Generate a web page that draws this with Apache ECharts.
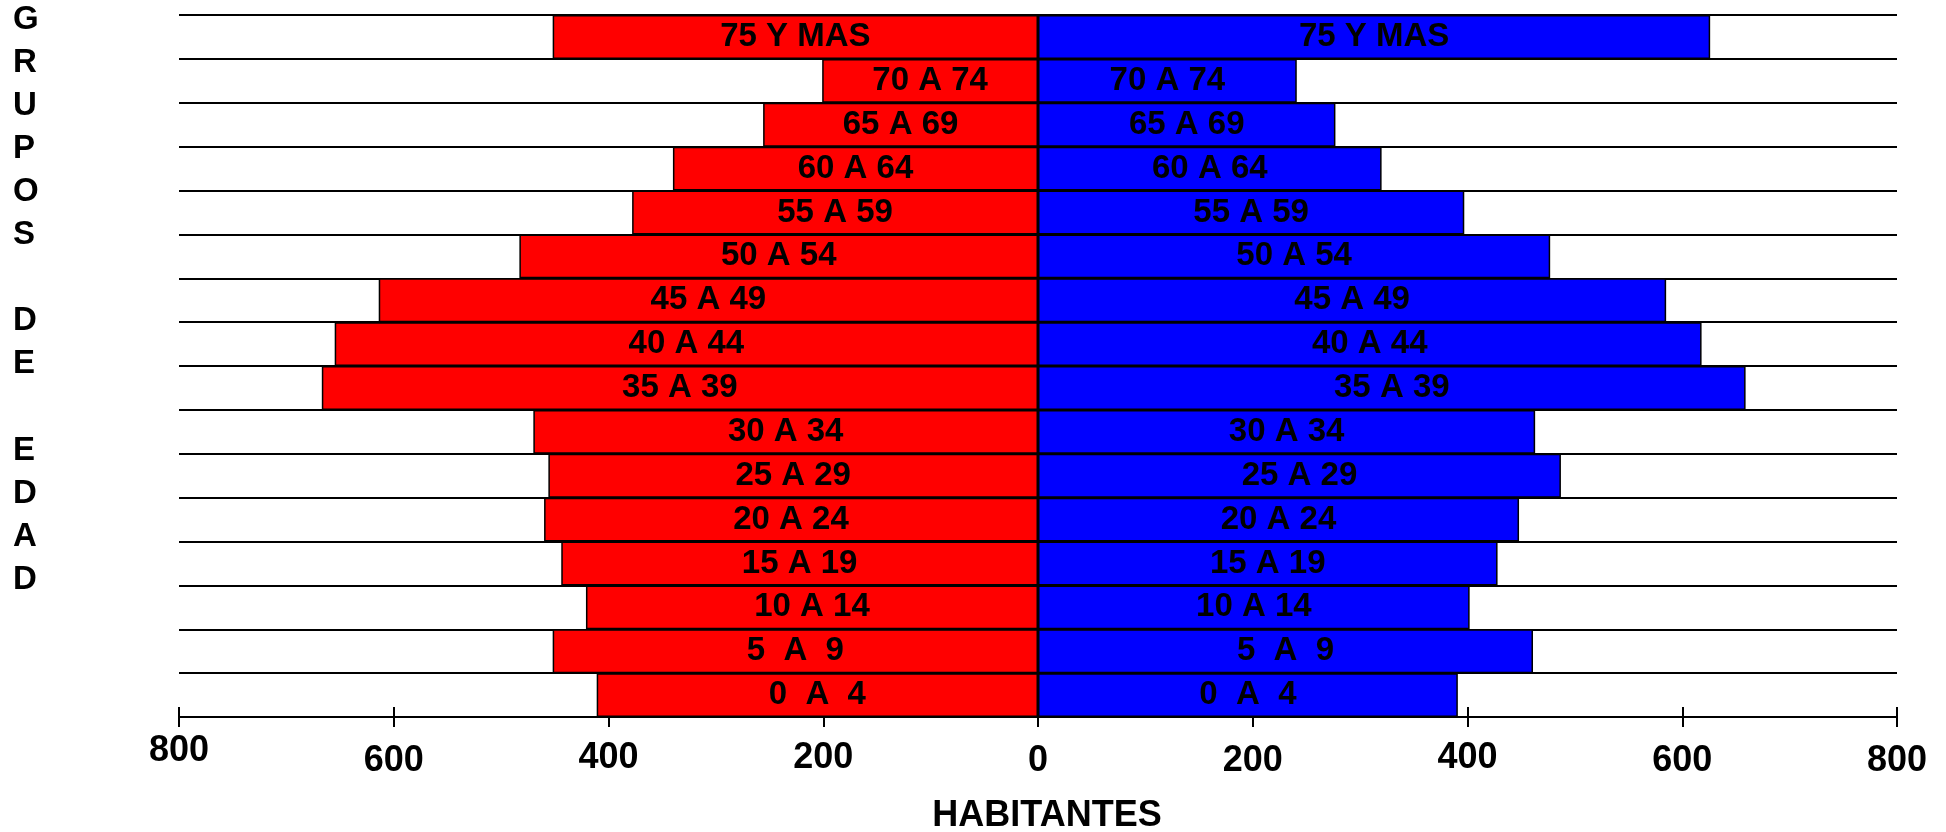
<!DOCTYPE html>
<html>
<head>
<meta charset="utf-8">
<script src="https://cdn.jsdelivr.net/npm/echarts@6/dist/echarts.min.js"></script>
<style>
html,body{margin:0;padding:0;background:#fff;}
#chart{width:1946px;height:832px;}
</style>
</head>
<body>
<div id="chart"></div>
<script>
// Age groups, bottom to top
const categories = ['0  A  4','5  A  9','10 A 14','15 A 19','20 A 24','25 A 29','30 A 34','35 A 39','40 A 44','45 A 49','50 A 54','55 A 59','60 A 64','65 A 69','70 A 74','75 Y MAS'];
// Left (red) side values
const redValues = [411,452,421,444,460,456,470,667,655,614,483,378,340,256,201,452];
// Right (blue) side values
const blueValues = [391,461,402,428,448,487,463,659,618,585,477,397,320,277,241,626];
const axisMin = -800, axisMax = 800, axisStep = 200;
const xTitle = 'HABITANTES';
const yTitle = 'G\nR\nU\nP\nO\nS\n\nD\nE\n\nE\nD\nA\nD';
// slight vertical stagger of the tick labels as in the reference
const tickLabelRow = {'-800': 'hi', '-400': 'mid', '-200': 'mid', '400': 'mid'};

const FONT = '"Liberation Sans", Arial, sans-serif';
const chart = echarts.init(document.getElementById('chart'), null, {renderer: 'canvas'});

const barLabel = {
  show: true,
  position: 'inside',
  formatter: p => p.name,
  color: '#000',
  fontFamily: FONT,
  fontWeight: 'bold',
  fontSize: 33
};

const tickFont = {color: '#000', fontFamily: FONT, fontWeight: 'bold', fontSize: 36};

const option = {
  backgroundColor: '#fff',
  animation: false,
  grid: {left: 179, right: 49, top: 15, bottom: 115},
  xAxis: [{
    type: 'value',
    position: 'bottom',
    min: axisMin, max: axisMax, interval: axisStep,
    axisLine: {show: true, lineStyle: {color: '#000', width: 2}},
    axisTick: {show: true, length: 10, lineStyle: {color: '#000', width: 2}},
    axisLabel: Object.assign({
      margin: 20,
      formatter: v => '{' + (tickLabelRow[String(v)] || 'low') + '|' + Math.abs(v) + '}',
      rich: {
        hi: Object.assign({lineHeight: 28}, tickFont),
        mid: Object.assign({lineHeight: 42}, tickFont),
        low: Object.assign({lineHeight: 48}, tickFont)
      }
    }, tickFont),
    splitLine: {show: false}
  }, {
    type: 'value',
    position: 'bottom',
    offset: 0,
    min: axisMin, max: axisMax, interval: axisStep,
    axisLine: {show: false},
    axisTick: {show: true, inside: true, length: 10, lineStyle: {color: '#000', width: 2}},
    axisLabel: {show: false},
    splitLine: {show: false}
  }],
  yAxis: {
    type: 'category',
    data: categories,
    boundaryGap: true,
    axisLine: {show: false},
    axisTick: {show: false},
    axisLabel: {show: false},
    splitLine: {show: true, lineStyle: {color: '#000', width: 2}}
  },
  series: [{
    type: 'bar',
    name: 'izquierda',
    data: redValues.map(v => -v),
    barWidth: '100%',
    barGap: '-100%',
    itemStyle: {color: '#ff0000', borderColor: '#000', borderWidth: 1.5},
    label: barLabel
  }, {
    type: 'bar',
    name: 'derecha',
    data: blueValues,
    barWidth: '100%',
    barGap: '-100%',
    itemStyle: {color: '#0000ff', borderColor: '#000', borderWidth: 1.5},
    label: barLabel
  }],
  graphic: [{
    type: 'text',
    left: 13,
    top: -2,
    style: {
      text: yTitle,
      font: 'bold 33px ' + FONT,
      lineHeight: 43.1,
      fill: '#000'
    }
  }, {
    type: 'text',
    x: 1047,
    y: 816,
    style: {
      text: xTitle,
      font: 'bold 36px ' + FONT,
      fill: '#000',
      align: 'center',
      verticalAlign: 'middle'
    }
  }]
};
chart.setOption(option);
</script>
</body>
</html>
